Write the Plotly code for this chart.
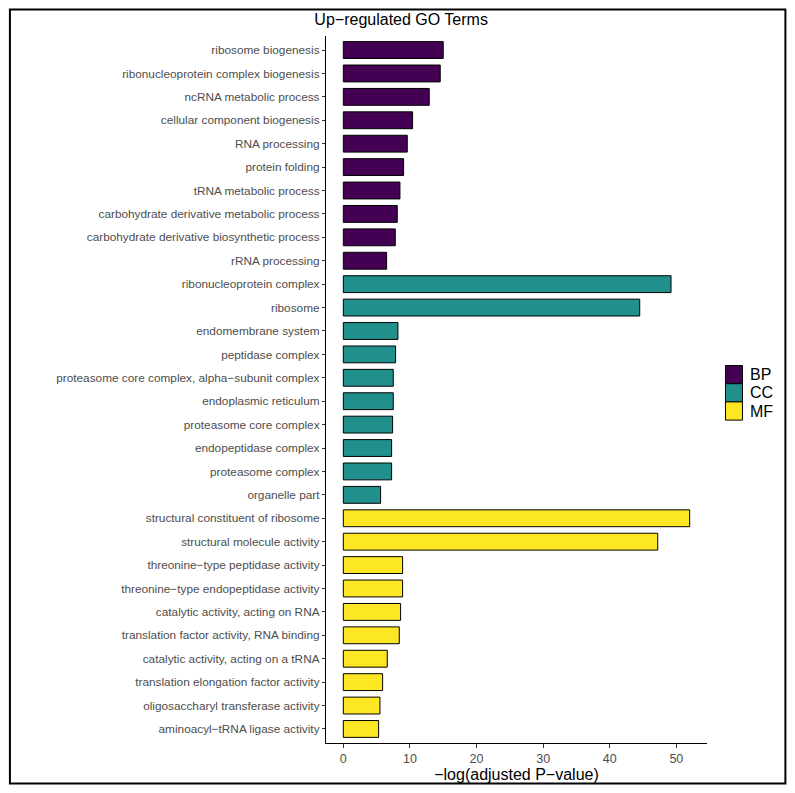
import plotly.graph_objects as go

bp_terms = ["ribosome biogenesis", "ribonucleoprotein complex biogenesis", "ncRNA metabolic process",
            "cellular component biogenesis", "RNA processing", "protein folding", "tRNA metabolic process",
            "carbohydrate derivative metabolic process", "carbohydrate derivative biosynthetic process",
            "rRNA processing"]
bp_values = [15.0, 14.55, 12.9, 10.4, 9.6, 9.05, 8.5, 8.1, 7.8, 6.5]

cc_terms = ["ribonucleoprotein complex", "ribosome", "endomembrane system", "peptidase complex",
            "proteasome core complex, alpha−subunit complex", "endoplasmic reticulum",
            "proteasome core complex", "endopeptidase complex", "proteasome complex", "organelle part"]
cc_values = [49.2, 44.5, 8.2, 7.85, 7.5, 7.5, 7.4, 7.25, 7.25, 5.6]

mf_terms = ["structural constituent of ribosome", "structural molecule activity",
            "threonine−type peptidase activity", "threonine−type endopeptidase activity",
            "catalytic activity, acting on RNA", "translation factor activity, RNA binding",
            "catalytic activity, acting on a tRNA", "translation elongation factor activity",
            "oligosaccharyl transferase activity", "aminoacyl−tRNA ligase activity"]
mf_values = [52.0, 47.2, 8.9, 8.9, 8.6, 8.4, 6.6, 5.9, 5.5, 5.3]

groups = ["BP", "CC", "MF"]
colors = {"BP": "#440154", "CC": "#21908C", "MF": "#FDE725"}
x_ticks = [0, 10, 20, 30, 40, 50]

all_terms = bp_terms + cc_terms + mf_terms
FONT = "Liberation Sans, Arial, sans-serif"

fig = go.Figure()
for g, terms, vals in zip(groups, [bp_terms, cc_terms, mf_terms], [bp_values, cc_values, mf_values]):
    fig.add_trace(go.Bar(
        x=vals, y=terms, orientation="h", name=g, width=0.72, showlegend=False,
        marker=dict(color=colors[g], line=dict(color="black", width=1)),
    ))

W, H = 795, 793
L, R, T, B = 326, 87.5, 36, 50
pw, ph = W - L - R, H - T - B

def px_x(p):
    return (p - L) / pw

def px_y(p):
    return (H - B - p) / ph

shapes = [dict(type="rect", xref="paper", yref="paper",
               x0=px_x(9.5), x1=px_x(786), y0=px_y(783.5), y1=px_y(9.5),
               line=dict(color="black", width=2), fillcolor="rgba(0,0,0,0)", layer="above")]
annotations = []
# legend (key squares + labels)
key_top = 365.5
key_h = 18.2
for i, g in enumerate(groups):
    y0 = key_top + i * key_h
    shapes.append(dict(type="rect", xref="paper", yref="paper",
                       x0=px_x(726), x1=px_x(743), y0=px_y(y0 + key_h), y1=px_y(y0),
                       line=dict(color="black", width=1), fillcolor=colors[g], layer="above"))
    annotations.append(dict(text=g, xref="paper", yref="paper", x=px_x(749), y=px_y(y0 + key_h / 2),
                            xanchor="left", yanchor="middle", showarrow=False,
                            font=dict(size=16, color="black", family=FONT)))

fig.update_layout(
    width=W, height=H,
    margin=dict(l=L, r=R, t=T, b=B, autoexpand=False),
    plot_bgcolor="white", paper_bgcolor="white",
    barmode="overlay",
    font=dict(family=FONT, color="black"),
    title=dict(text="Up−regulated GO Terms", x=px_x(518.5), xanchor="center",
               y=1 - 19 / H, yanchor="middle", font=dict(size=16, color="black")),
    showlegend=False,
    xaxis=dict(range=[-2.6, 54.6], tickvals=x_ticks, showgrid=False, zeroline=False,
               showline=True, linecolor="black", linewidth=1.2,
               ticks="outside", ticklen=4, tickcolor="#333333",
               tickfont=dict(size=12.5, color="#4D4D4D"),
               title=dict(text="−log(adjusted P−value)", font=dict(size=16, color="black"), standoff=0)),
    yaxis=dict(type="category", categoryorder="array", categoryarray=all_terms,
               range=[len(all_terms) - 1 + 0.6, -0.6], showgrid=False, zeroline=False,
               showline=True, linecolor="black", linewidth=1.2,
               ticks="outside", ticklen=3, tickcolor="#333333",
               tickfont=dict(size=11.8, color="#4D4D4D")),
    shapes=shapes,
    annotations=annotations,
)

fig.write_html("out.html", config={"displayModeBar": False},
               post_script="document.body.style.margin='0';")
